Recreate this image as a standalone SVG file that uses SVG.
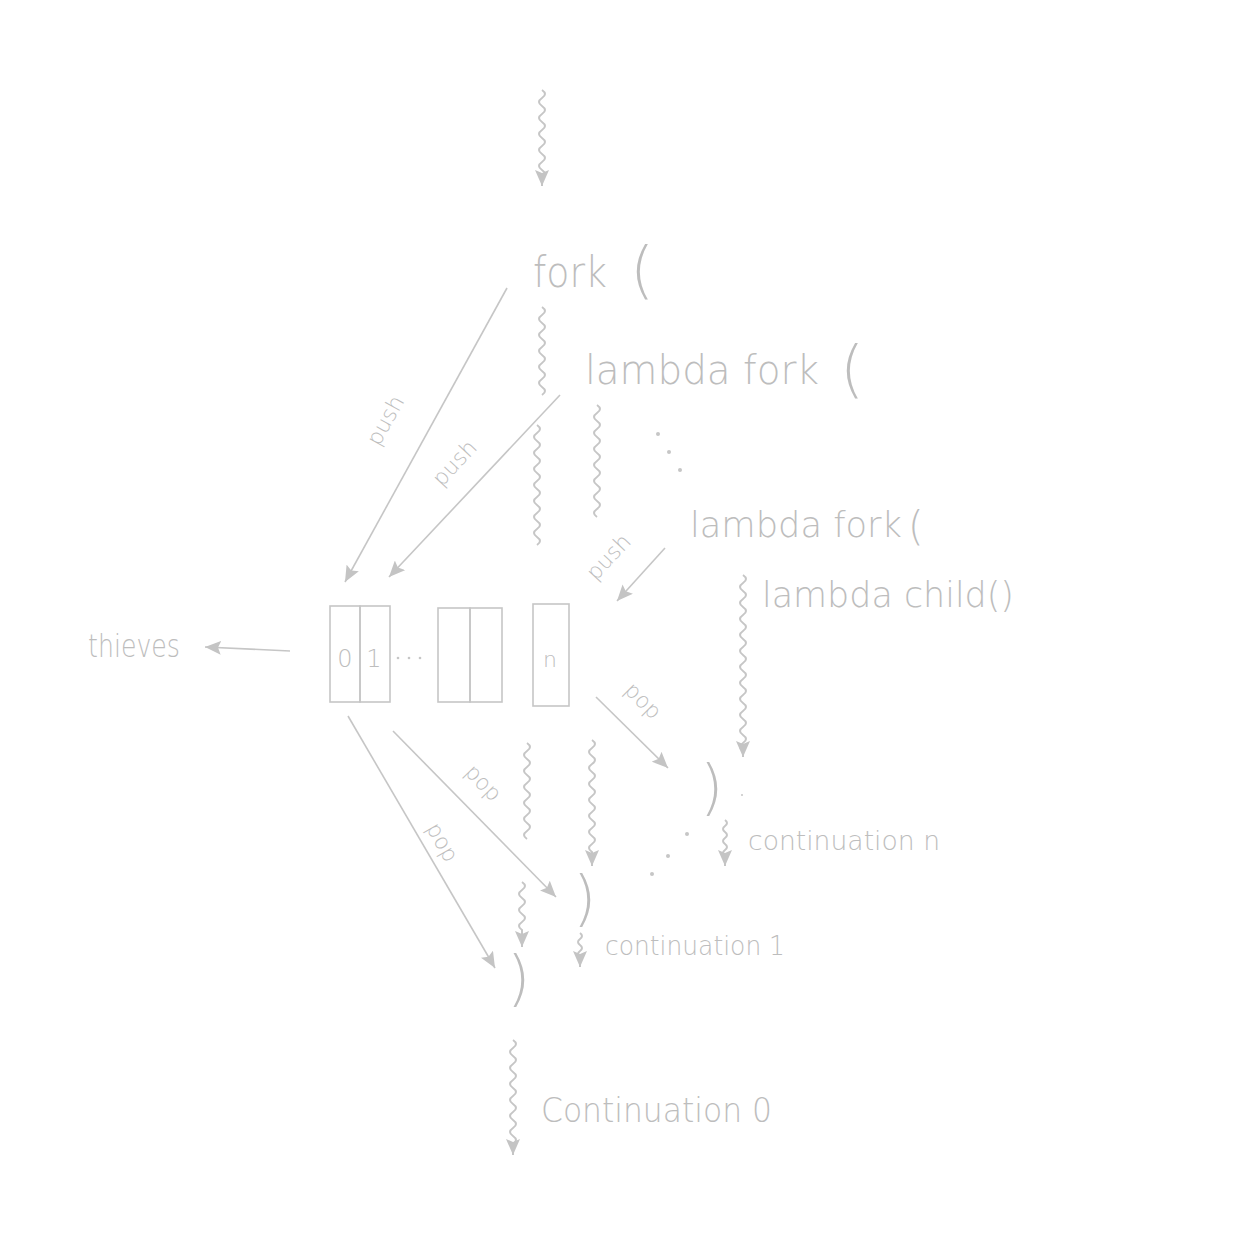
<svg xmlns="http://www.w3.org/2000/svg" width="1256" height="1242" viewBox="0 0 1256 1242">
<defs>
<marker id="ah" viewBox="0 0 16 14" refX="16" refY="7" markerWidth="16" markerHeight="14" orient="auto" markerUnits="userSpaceOnUse">
<path d="M0,0 L16,7 L0,14 L3,7 z" fill="#c4c4c4"/>
</marker>
<style>
.t{font-family:"DejaVu Sans",sans-serif;font-weight:200;fill:#bdbdbd}
.ln{stroke:#c6c6c6;stroke-width:1.6;fill:none}
.wv{stroke:#c6c6c6;stroke-width:2;fill:none}
.box{stroke:#c6c6c6;stroke-width:1.6;fill:none}
.dot{fill:#c6c6c6}
</style>
</defs>
<rect width="1256" height="1242" fill="#ffffff"/>

<g id="connectors">
<path class="wv" d="M542,90 q6,4 0,8 t0,8 t0,8 t0,8 t0,8 t0,8 t0,8 t0,8 t0,8 t0,8 t0,8 v8" marker-end="url(#ah)"/>
<path class="wv" d="M542,307 q6,4 0,8 t0,8 t0,8 t0,8 t0,8 t0,8 t0,8 t0,8 t0,8 t0,8 t0,8"/>
<path class="wv" d="M597,405 q6,4 0,8 t0,8 t0,8 t0,8 t0,8 t0,8 t0,8 t0,8 t0,8 t0,8 t0,8 t0,8 t0,8 t0,8"/>
<path class="wv" d="M537,425 q6,4 0,8 t0,8 t0,8 t0,8 t0,8 t0,8 t0,8 t0,8 t0,8 t0,8 t0,8 t0,8 t0,8 t0,8 t0,8"/>
<path class="wv" d="M743,575 q6,4 0,8 t0,8 t0,8 t0,8 t0,8 t0,8 t0,8 t0,8 t0,8 t0,8 t0,8 t0,8 t0,8 t0,8 t0,8 t0,8 t0,8 t0,8 t0,8 t0,8 t0,8 t0,8 v6" marker-end="url(#ah)"/>
<path class="wv" d="M527,743 q6,4 0,8 t0,8 t0,8 t0,8 t0,8 t0,8 t0,8 t0,8 t0,8 t0,8 t0,8 t0,8"/>
<path class="wv" d="M592,740 q6,4 0,8 t0,8 t0,8 t0,8 t0,8 t0,8 t0,8 t0,8 t0,8 t0,8 t0,8 t0,8 t0,8 t0,8 v14" marker-end="url(#ah)"/>
<path class="wv" d="M522,882 q6,4 0,8 t0,8 t0,8 t0,8 t0,8 t0,8 v17" marker-end="url(#ah)"/>
<path class="wv" d="M580,933 q4,3 0,6 t0,6 t0,6 t0,6 v10" marker-end="url(#ah)"/>
<path class="wv" d="M725,820 q4,3 0,6 t0,6 t0,6 t0,6 t0,6 t0,6 v10" marker-end="url(#ah)"/>
<path class="wv" d="M513,1040 q6,4 0,8 t0,8 t0,8 t0,8 t0,8 t0,8 t0,8 t0,8 t0,8 t0,8 t0,8 t0,8 t0,8 v11" marker-end="url(#ah)"/>

<line class="ln" x1="507" y1="288" x2="345" y2="582" marker-end="url(#ah)"/>
<line class="ln" x1="560" y1="395" x2="389" y2="577" marker-end="url(#ah)"/>
<line class="ln" x1="665" y1="548" x2="617" y2="601" marker-end="url(#ah)"/>
<line class="ln" x1="290" y1="651" x2="205" y2="647" marker-end="url(#ah)"/>
<line class="ln" x1="348" y1="716" x2="495" y2="968" marker-end="url(#ah)"/>
<line class="ln" x1="393" y1="731" x2="556" y2="897" marker-end="url(#ah)"/>
<line class="ln" x1="596" y1="697" x2="668" y2="768" marker-end="url(#ah)"/>

<text class="t" font-size="22" text-anchor="middle" transform="translate(392,424) rotate(-61)">push</text>
<text class="t" font-size="22" text-anchor="middle" transform="translate(460,468) rotate(-47)">push</text>
<text class="t" font-size="22" text-anchor="middle" transform="translate(614,562) rotate(-47)">push</text>
<text class="t" font-size="22" text-anchor="middle" transform="translate(436,846) rotate(60)">pop</text>
<text class="t" font-size="22" text-anchor="middle" transform="translate(478,788) rotate(46)">pop</text>
<text class="t" font-size="22" text-anchor="middle" transform="translate(638,706) rotate(45)">pop</text>
</g>

<g id="fork">
<text class="t" x="533" y="287" font-size="42" textLength="74" lengthAdjust="spacingAndGlyphs">fork</text>
<text class="t" x="630" y="291" font-size="62">(</text>
</g>
<g id="lambda-fork-1">
<text class="t" x="585" y="384" font-size="40" textLength="234" lengthAdjust="spacingAndGlyphs">lambda fork</text>
<text class="t" x="840" y="390" font-size="62">(</text>
</g>
<g id="ellipsis-1">
<circle class="dot" cx="658" cy="434" r="2"/>
<circle class="dot" cx="669" cy="452" r="2"/>
<circle class="dot" cx="680" cy="470" r="2"/>
</g>
<g id="lambda-fork-n">
<text class="t" x="690" y="537" font-size="36" textLength="212" lengthAdjust="spacingAndGlyphs">lambda fork</text>
<text class="t" x="908" y="540" font-size="40">(</text>
</g>
<g id="lambda-child">
<text class="t" x="762" y="607" font-size="36" textLength="252" lengthAdjust="spacingAndGlyphs">lambda child()</text>
</g>

<g id="deque">
<rect class="box" x="330" y="606" width="30" height="96"/>
<rect class="box" x="360" y="606" width="30" height="96"/>
<text class="t" x="345" y="667" font-size="24" text-anchor="middle">0</text>
<text class="t" x="374" y="667" font-size="24" text-anchor="middle">1</text>
<circle class="dot" cx="398" cy="658" r="1.3"/>
<circle class="dot" cx="409" cy="658" r="1.3"/>
<circle class="dot" cx="420" cy="658" r="1.3"/>
<rect class="box" x="438" y="608" width="32" height="94"/>
<rect class="box" x="470" y="608" width="32" height="94"/>
<rect class="box" x="533" y="604" width="36" height="102"/>
<text class="t" x="550" y="667" font-size="22" text-anchor="middle">n</text>
</g>

<g id="thieves">
<text class="t" x="88" y="657" font-size="32" textLength="92" lengthAdjust="spacingAndGlyphs">thieves</text>
</g>

<g id="close-n">
<text class="t" x="700" y="808" font-size="60">)</text>
<circle class="dot" cx="742" cy="795" r="1"/>
</g>
<g id="ellipsis-2">
<circle class="dot" cx="687" cy="834" r="2"/>
<circle class="dot" cx="668" cy="856" r="2"/>
<circle class="dot" cx="652" cy="874" r="2"/>
</g>
<g id="continuation-n">
<text class="t" x="748" y="850" font-size="27" textLength="192" lengthAdjust="spacingAndGlyphs">continuation n</text>
</g>
<g id="close-1">
<text class="t" x="573" y="919" font-size="60">)</text>
</g>
<g id="continuation-1">
<text class="t" x="605" y="955" font-size="27" textLength="180" lengthAdjust="spacingAndGlyphs">continuation 1</text>
</g>
<g id="close-0">
<text class="t" x="507" y="999" font-size="60">)</text>
</g>
<g id="continuation-0">
<text class="t" x="541" y="1122" font-size="34" textLength="231" lengthAdjust="spacingAndGlyphs">Continuation 0</text>
</g>
</svg>
